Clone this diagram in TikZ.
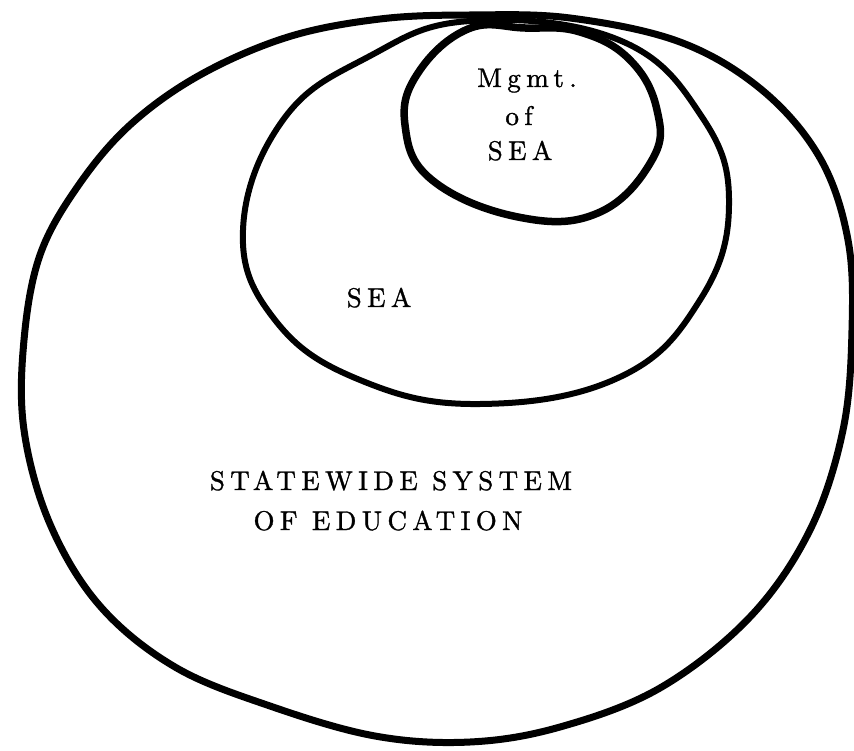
\documentclass[tikz,border=0pt]{standalone}
\usepackage{fontspec}
\newfontfamily\lsfont{lmroman10-regular.otf}[LetterSpace=20,FakeBold=1.2]
\begin{document}
\begin{tikzpicture}[x=1pt,y=-1pt,
  ring/.style={line width=7pt,line join=round,black},
  lbl/.style={font=\lsfont\fontsize{27}{30}\selectfont,anchor=base,inner sep=0pt}]
\useasboundingbox (0,0) rectangle (854,751);
% outer
\draw[ring] plot[smooth cycle,tension=0.6] coordinates{(470,15) (570,18) (680,42) (762,90) (820,158) (848,240) (852,330) (843,430) (810,530) (750,617) (660,688) (560,727) (470,742) (375,736) (270,706) (175,667) (100,606) (50,524) (24,430) (24,340) (40,255) (78,186) (130,125) (200,75) (288,37) (380,19)};
% middle
\draw[ring,line width=6pt] plot[smooth cycle,tension=0.7] coordinates{(470,21) (619,40) (702,117) (729,205) (700,300) (620,377) (480,404) (360,380) (275,320) (243,230) (283,120) (368,57)};
% inner
\draw[ring,line width=7.5pt] plot[smooth cycle,tension=0.7] coordinates{(468,29) (418,73) (405,125) (432,180) (518,217) (598,213) (652,160) (657,110) (630,60) (580,32) (525,28)};
\node[lbl] (mgmt) at (527,87) {Mgmt.};
\node[lbl] (of) at (519,125) {of};
\node[lbl] (sea1) at (520,160) {SEA};
\node[lbl] (sea2) at (379,307) {SEA};
\node[lbl] (sse1) at (391,490) {STATEWIDE SYSTEM};
\node[lbl] (sse2) at (388,530) {OF EDUCATION};
\end{tikzpicture}
\end{document}
